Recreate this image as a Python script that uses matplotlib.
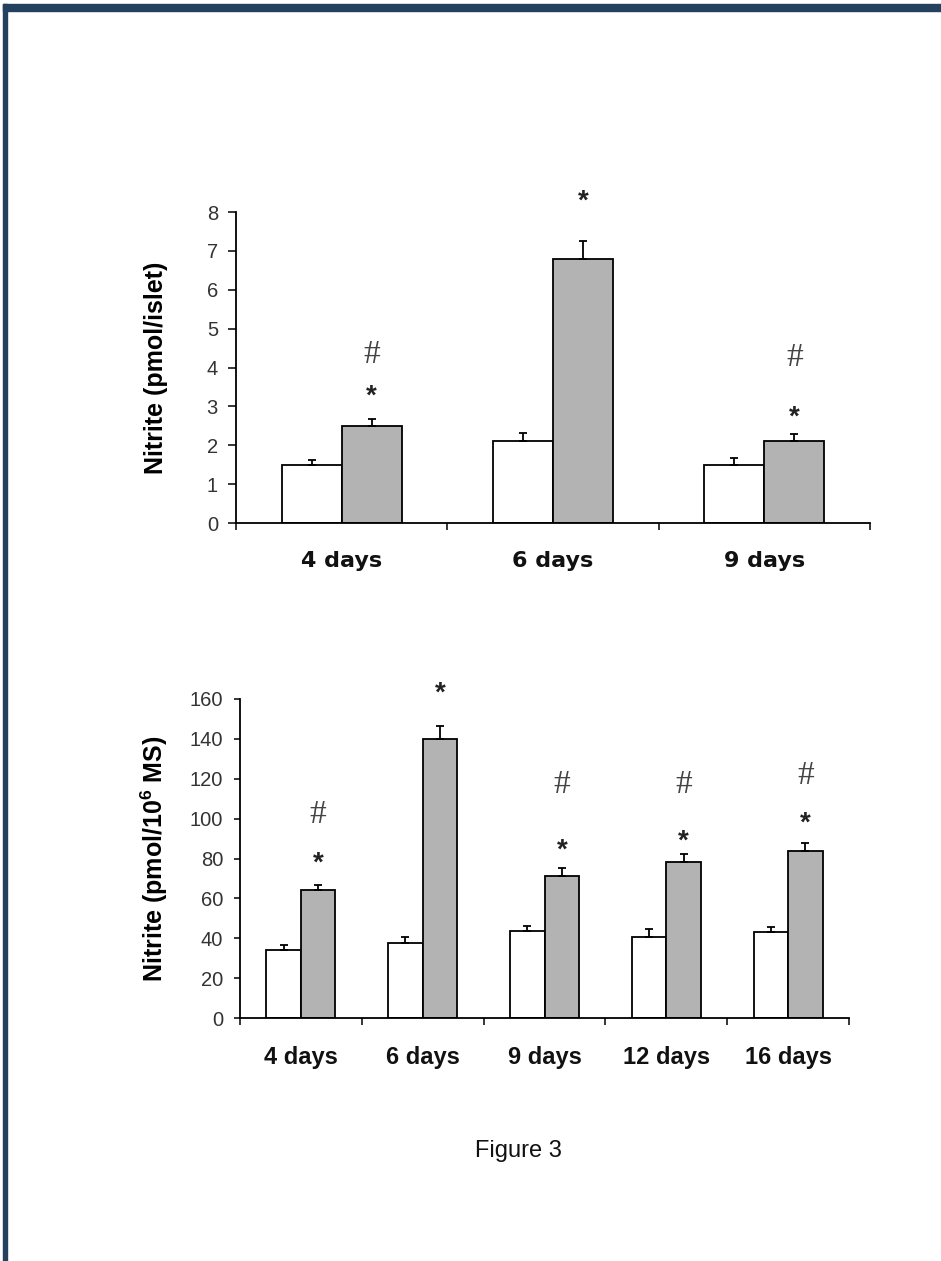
import numpy as np
import matplotlib.pyplot as plt
from matplotlib.patches import Rectangle

plt.rcParams["mathtext.fontset"] = "custom"
plt.rcParams["mathtext.rm"] = "Liberation Sans"
plt.rcParams["mathtext.bf"] = "Liberation Sans:bold"

# upper panel: nitrite per islet
days_top = ["4 days", "6 days", "9 days"]
control_top = [1.5, 2.1, 1.5]
control_top_err = [0.12, 0.22, 0.17]
treated_top = [2.5, 6.78, 2.1]
treated_top_err = [0.17, 0.47, 0.18]
star_top = [3.47, 8.51, 2.93]      # height of the * marks
hash_top = [4.40, None, 4.32]      # height of the # marks

# lower panel: nitrite per 10^6 MS
days_bot = ["4 days", "6 days", "9 days", "12 days", "16 days"]
control_bot = [34, 37.5, 43.5, 40.5, 43]
control_bot_err = [2.5, 3, 2.5, 4, 2.5]
treated_bot = [64, 140, 71, 78, 84]
treated_bot_err = [2.5, 6.5, 4, 4.5, 4]
star_bot = [81.7, 167, 88.3, 92.8, 101.8]
hash_bot = [103.3, None, 118.4, 118.4, 122.9]

W, H = 941, 1261
fig = plt.figure(figsize=(W / 100, H / 100), dpi=100)
fig.patch.set_facecolor("white")

# dark frame on top and left
frame = "#24405f"
fig.patches.append(Rectangle((3 / W, 1 - 11 / H), 1, 7 / H, transform=fig.transFigure,
                             color=frame, zorder=0))
fig.patches.append(Rectangle((3 / W, 0), 4 / W, 1 - 4 / H, transform=fig.transFigure,
                             color=frame, zorder=0))


def px_axes(x0, x1, y_top, y_bot):
    return fig.add_axes([x0 / W, 1 - y_bot / H, (x1 - x0) / W, (y_bot - y_top) / H])


def panel(ax, labels, ctrl, ctrl_err, trt, trt_err, stars, hashes, ymax, ystep,
          xfont, xsize, tick_len, tick_pad, label_x, ylabel):
    n = len(labels)
    x = np.arange(n)
    w = 0.284
    ax.bar(x - w / 2, ctrl, w, color="white", edgecolor="black", linewidth=1.3, zorder=2)
    ax.bar(x + w / 2, trt, w, color="#b3b3b3", edgecolor="black", linewidth=1.3, zorder=2)
    ax.errorbar(x - w / 2, ctrl, yerr=[np.zeros(n), ctrl_err], fmt="none", ecolor="black",
                elinewidth=1.3, capsize=3, capthick=1.3, zorder=3)
    ax.errorbar(x + w / 2, trt, yerr=[np.zeros(n), trt_err], fmt="none", ecolor="black",
                elinewidth=1.3, capsize=3, capthick=1.3, zorder=3)

    for i in range(n):
        ax.annotate("*", (x[i] + w / 2, stars[i]), xytext=(0, -0.575 * 20),
                    textcoords="offset points", ha="center", va="baseline",
                    fontsize=20, fontweight="bold", family="Liberation Sans",
                    color="#222222", annotation_clip=False)
        if hashes[i] is not None:
            ax.annotate("#", (x[i] + w / 2, hashes[i]), xytext=(0, -0.34 * 24),
                        textcoords="offset points", ha="center", va="baseline",
                        fontsize=24, family="Liberation Serif", color="#444444",
                        annotation_clip=False)

    ax.set_xlim(-0.5, n - 0.5)
    ax.set_ylim(0, ymax)
    ax.set_yticks(np.arange(0, ymax + ystep / 2, ystep))
    ax.set_xticks(x)
    ax.set_xticks(np.arange(-0.5, n), minor=True)
    ax.set_xticklabels(labels, family=xfont, fontweight="bold", fontsize=xsize, color="#111111")
    ax.tick_params(axis="x", which="major", length=0, pad=20)
    ax.tick_params(axis="x", which="minor", length=5, width=1.1, direction="out")
    ax.tick_params(axis="y", length=tick_len, width=1.1, direction="out", pad=tick_pad,
                   labelsize=14.5, labelcolor="#333333")
    for t in ax.get_yticklabels():
        t.set_family("Liberation Sans")
    for side in ["top", "right"]:
        ax.spines[side].set_visible(False)
    for side in ["left", "bottom"]:
        ax.spines[side].set_linewidth(1.3)
    ax.set_ylabel(ylabel, family="Liberation Sans", fontweight="bold", fontsize=18)
    ax.yaxis.set_label_coords(label_x, 0.5)


ax1 = px_axes(236, 870, 212, 523)
panel(ax1, days_top, control_top, control_top_err, treated_top, treated_top_err,
      star_top, hash_top, 8, 1, "DejaVu Sans", 16, 6, 7, -0.107, "Nitrite (pmol/islet)")

ax2 = px_axes(240, 849, 699, 1018)
panel(ax2, days_bot, control_bot, control_bot_err, treated_bot, treated_bot_err,
      star_bot, hash_bot, 160, 20, "Liberation Sans", 17, 4, 8, -0.115,
      "Nitrite (pmol/10$^{\\mathbf{6}}$ MS)")

fig.text(518 / W, 1 - 1157 / H, "Figure 3", ha="center", va="baseline",
         fontsize=17, family="Liberation Sans", color="#111111")

fig.savefig("out.png", dpi=100)
